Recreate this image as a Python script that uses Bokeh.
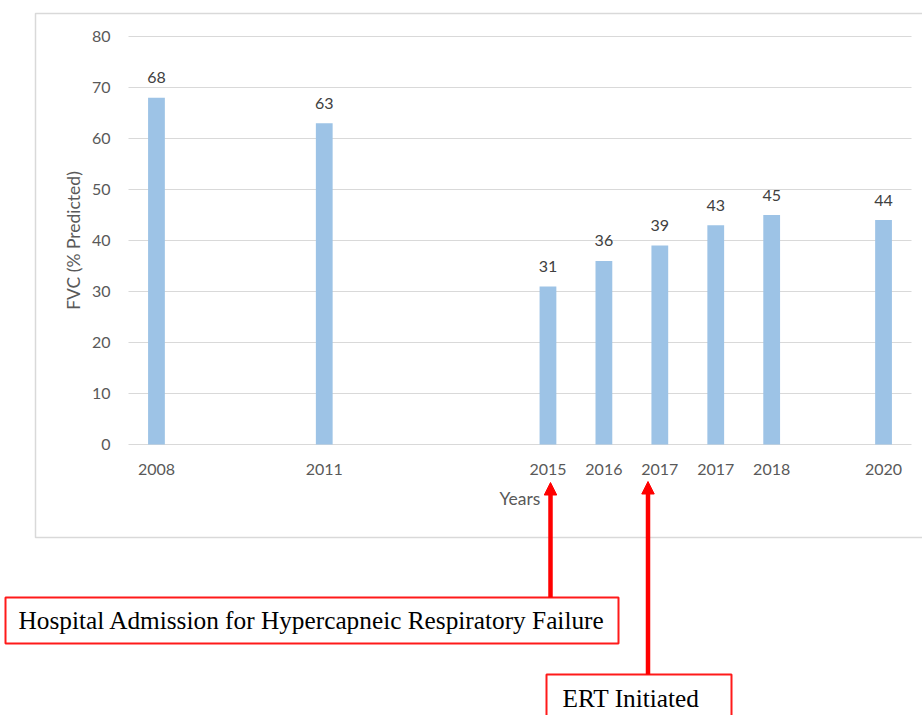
from bokeh.plotting import figure
from bokeh.models import Range1d, FixedTicker, Arrow, NormalHead, ColumnDataSource
from bokeh.core.properties import value
from bokeh.embed import file_html
from bokeh.resources import INLINE

# ---------------- data ----------------
categories = ["2008", "", "", "2011", "", "", "", "2015", "2016", "2017", "2017", "2018", "", "2020"]
fvc_values = [68, None, None, 63, None, None, None, 31, 36, 39, 43, 45, None, 44]
y_ticks = [0, 10, 20, 30, 40, 50, 60, 70, 80]
y_title = "FVC (% Predicted)"
x_title = "Years"
note_admission = "Hospital Admission for Hypercapneic Respiratory Failure"
note_ert = "ERT Initiated"

N = len(categories)
bar_x = [i for i, v in enumerate(fvc_values) if v is not None]
bar_top = [v for v in fvc_values if v is not None]
src = ColumnDataSource(dict(x=bar_x, top=bar_top, lab=[str(v) for v in bar_top]))
tick_pos = [i for i, c in enumerate(categories) if c]
tick_map = {i: categories[i] for i in tick_pos}

# ---------------- layout geometry (page px) ----------------
W, H = 922, 715
FR_L, FR_R, FR_T, FR_B = 128, 911, 36, 444   # plot-area edges in page px
Y_MAX = y_ticks[-1]
slot = (FR_R - FR_L) / N
def px2x(px):
    return -0.5 + (px - FR_L) / slot
def py2y(py):
    return (FR_B - py) * Y_MAX / (FR_B - FR_T)

p = figure(width=W, height=H, output_backend="svg", toolbar_location=None,
           x_range=Range1d(px2x(0), px2x(W)), y_range=Range1d(py2y(H), py2y(0)),
           min_border=0)
p.outline_line_color = None
p.background_fill_color = "white"
p.border_fill_color = "white"
p.xgrid.visible = False
p.ygrid.visible = False

# gridlines of the plot area
p.segment(x0=-0.5, x1=N - 0.5, y0=y_ticks, y1=y_ticks, line_color="#d9d9d9", line_width=1.2)

# bars + data labels
p.vbar(x="x", top="top", width=0.30, source=src, fill_color="#9dc3e6", line_color=None)
p.text(x="x", y="top", text="lab", source=src, text_align="center", text_baseline="middle",
       y_offset=-20, text_font=value("Lato"), text_font_size="16px", text_color="#404040")

# axes placed at the plot-area edges
ya = p.yaxis[0]
ya.fixed_location = -0.5
ya.bounds = (0, Y_MAX)
ya.ticker = FixedTicker(ticks=y_ticks)
ya.axis_line_color = None
ya.major_tick_line_color = None
ya.minor_tick_line_color = None
ya.major_label_standoff = 12
ya.major_label_text_font = "Lato"
ya.major_label_text_font_size = "16px"
ya.major_label_text_color = "#595959"
ya.axis_label = y_title
ya.axis_label_text_font = "Lato"
ya.axis_label_text_font_size = "17.5px"
ya.axis_label_text_font_style = "normal"
ya.axis_label_text_color = "#595959"
ya.axis_label_standoff = 5

xa = p.xaxis[0]
xa.fixed_location = 0
xa.bounds = (-0.5, N - 0.5)
xa.ticker = FixedTicker(ticks=tick_pos)
xa.major_label_overrides = tick_map
xa.axis_line_color = None
xa.major_tick_line_color = None
xa.minor_tick_line_color = None
xa.major_label_standoff = 13
xa.major_label_text_font = "Lato"
xa.major_label_text_font_size = "16px"
xa.major_label_text_color = "#595959"
xa.axis_label = x_title
xa.axis_label_text_font = "Lato"
xa.axis_label_text_font_size = "17.5px"
xa.axis_label_text_font_style = "normal"
xa.axis_label_text_color = "#595959"
xa.axis_label_standoff = 10

# chart border
p.quad(left=[px2x(35)], right=[px2x(940)], top=[py2y(13)], bottom=[py2y(537)],
       fill_color=None, line_color="#d9d9d9", line_width=1.5)

# note boxes and texts
p.quad(left=[px2x(5), px2x(546)], right=[px2x(618), px2x(731)],
       top=[py2y(597), py2y(674)], bottom=[py2y(643), py2y(760)],
       fill_color=None, line_color="#ff1a1a", line_width=2)
p.text(x=[px2x(18), px2x(562)], y=[py2y(619), py2y(697)], text=[note_admission, note_ert],
       text_font=value("Liberation Serif"), text_font_size="25.3px", text_color="black",
       text_align="left", text_baseline="middle")

# arrows
for xs, y0, y1 in [(550, 597, 482), (647.5, 674, 481)]:
    p.add_layout(Arrow(end=NormalHead(size=12.5, fill_color="red", line_color="red", line_width=1),
                       x_start=px2x(xs), y_start=py2y(y0), x_end=px2x(xs), y_end=py2y(y1),
                       line_color="red", line_width=4.5))

open("out.html", "w").write(file_html(p, INLINE))
